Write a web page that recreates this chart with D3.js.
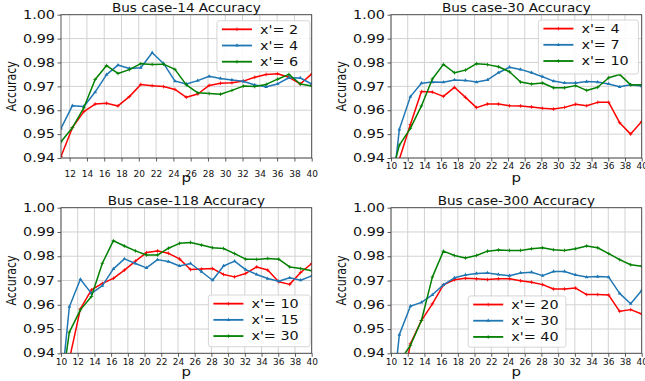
<!DOCTYPE html>
<html>
<head>
<meta charset="utf-8">
<script src="https://cdn.jsdelivr.net/npm/d3@7"></script>
<style>
  body { margin: 0; background: #fff; }
  svg { display: block; font-family: "DejaVu Sans", sans-serif; }
</style>
</head>
<body>
<svg id="chart" width="645" height="381"></svg>
<script>
// p values (case-14 has no point at 10)
var pCase14 = [11, 12.32, 13.64, 14.95, 16.27, 17.59, 18.91, 20.23, 21.55, 22.86, 24.18, 25.5,
  26.82, 28.14, 29.45, 30.77, 32.09, 33.41, 34.73, 36.05, 37.36, 38.68, 40];
var pOther = [10, 11, 12.32, 13.64, 14.95, 16.27, 17.59, 18.91, 20.23, 21.55, 22.86, 24.18, 25.5,
  26.82, 28.14, 29.45, 30.77, 32.09, 33.41, 34.73, 36.05, 37.36, 38.68, 40];

var titles = ["Bus case-14 Accuracy", "Bus case-30 Accuracy", "Bus case-118 Accuracy", "Bus case-300 Accuracy"];
var legend14 = ["x'= 2", "x'= 4", "x'= 6"];
var legend30 = ["x'= 4", "x'= 7", "x'= 10"];
var legend118 = ["x'= 10", "x'= 15", "x'= 30"];
var legend300 = ["x'= 20", "x'= 30", "x'= 40"];

var yTicks = [0.94, 0.95, 0.96, 0.97, 0.98, 0.99, 1.0];
var xTicks14 = [12, 14, 16, 18, 20, 22, 24, 26, 28, 30, 32, 34, 36, 38, 40];
var xTicksOther = [10, 12, 14, 16, 18, 20, 22, 24, 26, 28, 30, 32, 34, 36, 38, 40];

var acc14a = [0.9406, 0.9527, 0.9594, 0.9626, 0.9629, 0.9618, 0.9657, 0.9708, 0.9703, 0.9699, 0.9687, 0.9654,
  0.9668, 0.9704, 0.9713, 0.9715, 0.9722, 0.9738, 0.975, 0.9753, 0.9738, 0.971, 0.9752];
var acc14b = [0.9524, 0.9619, 0.9616, 0.9676, 0.9749, 0.9789, 0.9775, 0.9778, 0.9841, 0.9796, 0.9722, 0.971,
  0.9724, 0.9742, 0.9733, 0.9727, 0.9721, 0.9706, 0.9698, 0.971, 0.9736, 0.9735, 0.971];
var acc14c = [0.9468, 0.9527, 0.961, 0.9729, 0.9787, 0.9754, 0.977, 0.9795, 0.9792, 0.9793, 0.9771, 0.9706,
  0.9673, 0.967, 0.9667, 0.9683, 0.9701, 0.9699, 0.9708, 0.973, 0.975, 0.971, 0.9701];

var acc30a = [0.925, 0.9395, 0.954, 0.9678, 0.9676, 0.9658, 0.9696, 0.9654, 0.9611, 0.9626, 0.9626, 0.9619,
  0.9618, 0.9614, 0.9608, 0.9605, 0.9612, 0.9625, 0.9619, 0.9633, 0.9633, 0.9548, 0.95, 0.9553];
var acc30b = [0.921, 0.952, 0.9657, 0.9713, 0.9718, 0.9717, 0.9727, 0.9725, 0.9718, 0.9727, 0.9757, 0.978,
  0.9771, 0.9757, 0.974, 0.9722, 0.9714, 0.9714, 0.972, 0.9718, 0.971, 0.9698, 0.9707, 0.9701];
var acc30c = [0.932, 0.9454, 0.9524, 0.9618, 0.9731, 0.9792, 0.9757, 0.9768, 0.9795, 0.9791, 0.9782, 0.9761,
  0.9718, 0.971, 0.9714, 0.9694, 0.9694, 0.9703, 0.9683, 0.9696, 0.9736, 0.975, 0.9706, 0.9707];

var acc118a = [0.925, 0.9375, 0.9583, 0.9661, 0.9688, 0.9709, 0.9743, 0.978, 0.9815, 0.9822, 0.9812, 0.9789,
  0.9745, 0.9747, 0.9749, 0.9725, 0.9715, 0.9729, 0.9756, 0.9743, 0.9695, 0.9684, 0.9733, 0.977];
var acc118b = [0.925, 0.9592, 0.9705, 0.9647, 0.9679, 0.9748, 0.9789, 0.977, 0.9752, 0.9786, 0.9778, 0.976,
  0.977, 0.9736, 0.9701, 0.976, 0.978, 0.9745, 0.9725, 0.9708, 0.9697, 0.9711, 0.9701, 0.9719];
var acc118c = [0.9245, 0.9487, 0.9579, 0.9634, 0.9771, 0.9864, 0.9842, 0.9822, 0.9805, 0.9805, 0.9833, 0.9853,
  0.9857, 0.9846, 0.9835, 0.9832, 0.9811, 0.9788, 0.9787, 0.9791, 0.9788, 0.9756, 0.9749, 0.974];

var acc300a = [0.905, 0.92, 0.9439, 0.9535, 0.9604, 0.9682, 0.9703, 0.9709, 0.9707, 0.9704, 0.9707, 0.9707,
  0.9699, 0.9693, 0.9683, 0.9665, 0.9665, 0.9669, 0.9642, 0.9642, 0.964, 0.9573, 0.958, 0.9562];
var acc300b = [0.9155, 0.9477, 0.9594, 0.961, 0.9641, 0.9682, 0.9711, 0.9723, 0.9729, 0.9731, 0.9725, 0.972,
  0.9731, 0.9734, 0.972, 0.9737, 0.9737, 0.9723, 0.9714, 0.9716, 0.9714, 0.9647, 0.9604, 0.9659];
var acc300c = [0.925, 0.9366, 0.9432, 0.9535, 0.9714, 0.9821, 0.9803, 0.9793, 0.9803, 0.9821, 0.9826, 0.9824,
  0.9824, 0.9831, 0.9835, 0.9827, 0.9824, 0.9831, 0.9842, 0.9835, 0.9811, 0.9786, 0.9765, 0.9759];

var colors = ["#ff0000", "#1f77b4", "#008000"];
var markers = ["plus", "tri", "plus"];

// layout of the 2x2 grid; legend box given as [left, top] fraction of plot, [w, h] in px
var panels = [
  { title: titles[0], p: pCase14, series: [acc14a, acc14b, acc14c], labels: legend14, xTicks: xTicks14,
    xMin: 11, left: 61, right: 311.7, top: 14.7, bottom: 158, tickPad: 9.4, pOff: 24.2,
    legend: { fx: 0.622, fy: 0.042, w: 93, h: 51 } },
  { title: titles[1], p: pOther, series: [acc30a, acc30b, acc30c], labels: legend30, xTicks: xTicksOther,
    xMin: 10, left: 391, right: 641.7, top: 14.7, bottom: 158, tickPad: 1.6, pOff: 24.2,
    legend: { fx: 0.588, fy: 0.037, w: 100, h: 54 } },
  { title: titles[2], p: pOther, series: [acc118a, acc118b, acc118c], labels: legend118, xTicks: xTicksOther,
    xMin: 10, left: 61, right: 311.7, top: 207.7, bottom: 353.3, tickPad: 1.9, pOff: 22.2,
    legend: { fx: 0.588, fy: 0.6, w: 101.7, h: 51.7 } },
  { title: titles[3], p: pOther, series: [acc300a, acc300b, acc300c], labels: legend300, xTicks: xTicksOther,
    xMin: 10, left: 391, right: 641.7, top: 207.7, bottom: 353.3, tickPad: 1.9, pOff: 22.2,
    legend: { fx: 0.308, fy: 0.606, w: 97.7, h: 51.3 } }
];

var svg = d3.select("#chart");

panels.forEach(function (cfg, i) {
  drawPanel(cfg, i);
});

function drawMarker(sel, kind, color) {
  if (kind == "plus") {
    sel.append("path")
      .attr("d", "M-1.8,0H1.8M0,-1.8V1.8")
      .attr("stroke", color)
      .attr("stroke-width", 0.8)
      .attr("fill", "none");
  } else {
    sel.append("path")
      .attr("d", d3.symbol().type(d3.symbolTriangle).size(6))
      .attr("fill", color);
  }
}

function drawPanel(cfg, idx) {
  var x = d3.scaleLinear().domain([cfg.xMin, 40]).range([cfg.left, cfg.right]);
  var y = d3.scaleLinear().domain([0.94, 1.0]).range([cfg.bottom, cfg.top]);
  var g = svg.append("g");
  var clipId = "clip" + idx;

  g.append("clipPath")
    .attr("id", clipId)
    .append("rect")
    .attr("x", cfg.left)
    .attr("y", cfg.top)
    .attr("width", cfg.right - cfg.left)
    .attr("height", cfg.bottom - cfg.top);

  // grid
  g.append("g")
    .selectAll("line")
    .data(cfg.xTicks)
    .join("line")
    .attr("x1", (d) => x(d))
    .attr("x2", (d) => x(d))
    .attr("y1", cfg.top)
    .attr("y2", cfg.bottom)
    .attr("stroke", "#d2d2d2")
    .attr("stroke-width", 1);
  g.append("g")
    .selectAll("line")
    .data(yTicks)
    .join("line")
    .attr("x1", cfg.left)
    .attr("x2", cfg.right)
    .attr("y1", (d) => y(d))
    .attr("y2", (d) => y(d))
    .attr("stroke", "#d2d2d2")
    .attr("stroke-width", 1);

  // axes
  var xAxis = g.append("g")
    .attr("transform", "translate(0," + cfg.bottom + ")")
    .call(d3.axisBottom(x).tickValues(cfg.xTicks).tickSize(3.5).tickPadding(cfg.tickPad).tickSizeOuter(0));
  xAxis.select(".domain").remove();
  xAxis.selectAll("line").attr("stroke", "#333").attr("stroke-width", 0.8);
  xAxis.selectAll("text")
    .attr("font-size", 9)
    .attr("font-family", "DejaVu Sans")
    .attr("fill", "#111");

  var yAxis = g.append("g")
    .attr("transform", "translate(" + cfg.left + ",0)")
    .call(d3.axisLeft(y).tickValues(yTicks).tickFormat(d3.format(".2f")).tickSize(3.5).tickPadding(2.5).tickSizeOuter(0));
  yAxis.select(".domain").remove();
  yAxis.selectAll("line").attr("stroke", "#333").attr("stroke-width", 0.8);
  yAxis.selectAll("text")
    .attr("font-size", 11.5)
    .attr("font-family", "DejaVu Sans")
    .attr("fill", "#111")
    .attr("x", -6 / 1.25)
    .attr("transform", "scale(1.25,1)");

  // lines
  var lineGen = d3.line()
    .x(function (d) { return x(d[0]); })
    .y(function (d) { return y(d[1]); });

  var plot = g.append("g").attr("clip-path", "url(#" + clipId + ")");
  cfg.series.forEach(function (vals, s) {
    var pts = vals.map(function (v, k) { return [cfg.p[k], v]; });
    plot.append("path")
      .datum(pts)
      .attr("fill", "none")
      .attr("stroke", colors[s])
      .attr("stroke-width", 1.5)
      .attr("stroke-linejoin", "round")
      .attr("d", lineGen);
    plot.append("g")
      .selectAll("g")
      .data(pts)
      .join("g")
      .attr("transform", (d) => "translate(" + x(d[0]) + "," + y(d[1]) + ")")
      .each(function () { drawMarker(d3.select(this), markers[s], colors[s]); });
  });

  // frame
  g.append("rect")
    .attr("x", cfg.left)
    .attr("y", cfg.top)
    .attr("width", cfg.right - cfg.left)
    .attr("height", cfg.bottom - cfg.top)
    .attr("fill", "none")
    .attr("stroke", "#444")
    .attr("stroke-width", 0.9);

  // texts
  g.append("text")
    .attr("transform", "translate(" + (cfg.left + cfg.right) / 2 + "," + (cfg.top - 3) + ") scale(1.18,1)")
    .attr("text-anchor", "middle")
    .attr("font-size", 11.5)
    .attr("fill", "#111")
    .text(cfg.title);

  g.append("text")
    .attr("transform", "translate(" + (cfg.left + cfg.right) / 2 + "," + (cfg.bottom + cfg.pOff) + ") scale(1.15,1)")
    .attr("text-anchor", "middle")
    .attr("font-size", 13)
    .attr("fill", "#111")
    .text("p");

  g.append("text")
    .attr("transform", "translate(" + (cfg.left - 45) + "," + (cfg.top + cfg.bottom) / 2 + ") scale(1.2,1) rotate(-90)")
    .attr("text-anchor", "middle")
    .attr("font-size", 11)
    .attr("fill", "#111")
    .text("Accuracy");

  // legend
  var lx = cfg.left + cfg.legend.fx * (cfg.right - cfg.left);
  var ly = cfg.top + cfg.legend.fy * (cfg.bottom - cfg.top);
  var lg = g.append("g").attr("transform", "translate(" + lx + "," + ly + ")");
  lg.append("rect")
    .attr("width", cfg.legend.w)
    .attr("height", cfg.legend.h)
    .attr("rx", 2.5)
    .attr("fill", "#fff")
    .attr("fill-opacity", 0.85)
    .attr("stroke", "#cccccc")
    .attr("stroke-width", 0.8);
  cfg.labels.forEach(function (lab, s) {
    var ry = 8.6 + s * 16.2;
    lg.append("line")
      .attr("x1", 5)
      .attr("x2", 35)
      .attr("y1", ry)
      .attr("y2", ry)
      .attr("stroke", colors[s])
      .attr("stroke-width", 1.8);
    drawMarker(lg.append("g").attr("transform", "translate(20," + ry + ")"), markers[s], colors[s]);
    lg.append("text")
      .attr("transform", "translate(43," + (ry + 4.2) + ") scale(1.25,1)")
      .attr("font-size", 11.5)
      .attr("fill", "#111")
      .text(lab);
  });
}
</script>
</body>
</html>
